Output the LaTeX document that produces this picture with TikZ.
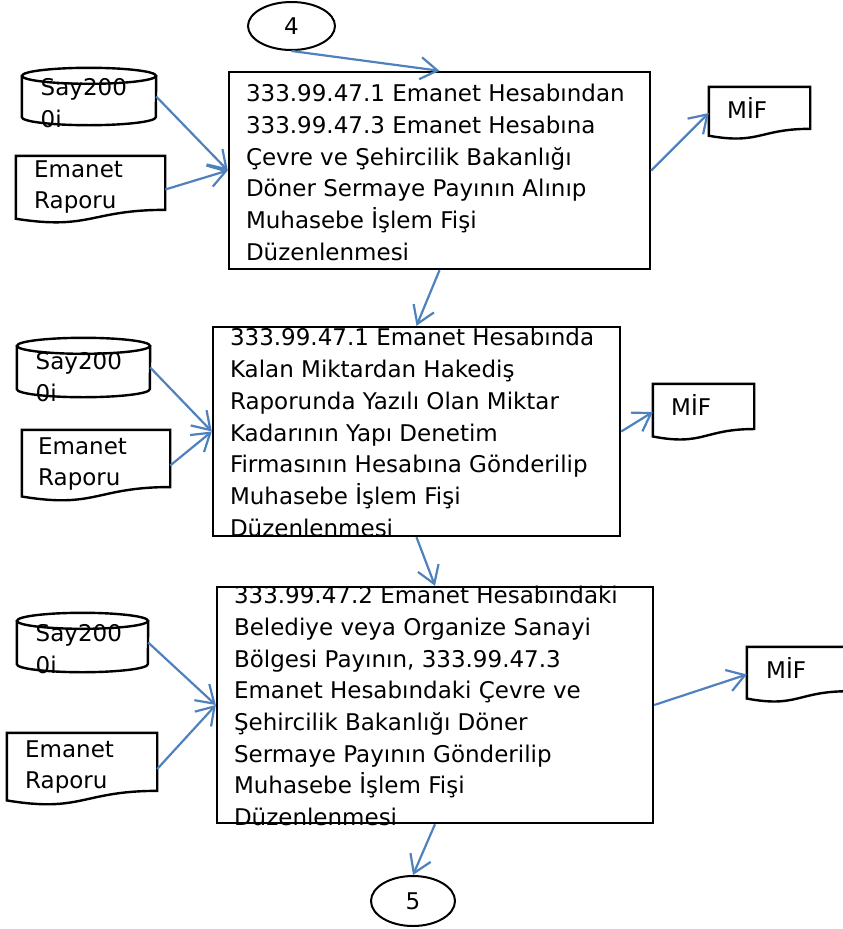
\documentclass[tikz,border=0pt]{standalone}
\usepackage{fontspec}
\setmainfont{DejaVu Sans}
\usetikzlibrary{shapes.geometric,arrows.meta,calc}
\definecolor{arrowblue}{HTML}{4F81BD}
\tikzset{
    flow/.style={draw=arrowblue, line width=2.2pt, -{Straight Barb[length=17pt,width=22pt]}},
    procbox/.style={rectangle, draw, line width=2.4pt, inner sep=0pt},
    proctext/.style={anchor=west, align=left, inner sep=0pt},
    outline/.style={line width=2.4pt},
    paper/.style={rectangle, inner sep=0pt},
    terminal/.style={ellipse, draw, line width=2pt, inner sep=0pt},
}
\begin{document}
\begin{tikzpicture}[x=1pt, y=-1pt, font=\fontsize{23}{31.7}\selectfont]
\useasboundingbox (0,0) rectangle (843,929);
% connectors in and out
\node[terminal, minimum width=87pt, minimum height=48pt] (o4) at (291.5,26) {4};
\node[terminal, minimum width=84pt, minimum height=50pt] (o5) at (413,901) {5};
% process boxes
\node[procbox, minimum width=421pt, minimum height=197pt] (b1) at (439.5,170.5) {};
\node[procbox, minimum width=407pt, minimum height=209pt] (b2) at (416.5,431.5) {};
\node[procbox, minimum width=436pt, minimum height=236pt] (b3) at (435,705) {};
\node[proctext] (t1) at ($(b1.west)+(18,2)$) {333.99.47.1 Emanet Hesabından\\333.99.47.3 Emanet Hesabına\\Çevre ve Şehircilik Bakanlığı\\Döner Sermaye Payının Alınıp\\Muhasebe İşlem Fişi\\Düzenlenmesi};
\node[proctext] (t2) at ($(b2.west)+(18,1)$) {333.99.47.1 Emanet Hesabında\\Kalan Miktardan Hakediş\\Raporunda Yazılı Olan Miktar\\Kadarının Yapı Denetim\\Firmasının Hesabına Gönderilip\\Muhasebe İşlem Fişi\\Düzenlenmesi};
\node[proctext] (t3) at ($(b3.west)+(18,1)$) {333.99.47.2 Emanet Hesabındaki\\Belediye veya Organize Sanayi\\Bölgesi Payının, 333.99.47.3\\Emanet Hesabındaki Çevre ve\\Şehircilik Bakanlığı Döner\\Sermaye Payının Gönderilip\\Muhasebe İşlem Fişi\\Düzenlenmesi};
% Say2000i disks
\node[paper, minimum width=134pt, minimum height=57pt] (c1) at (89,96.5) {};
\node[paper, minimum width=133pt, minimum height=59pt] (c2) at (83.5,367.5) {};
\node[paper, minimum width=131pt, minimum height=59pt] (c3) at (82.5,642.5) {};
\foreach \c/\r in {c1/67,c2/66.5,c3/65.5}
{
    \draw[outline] ($(\c.north)+(0,8)$) ellipse [x radius=\r*1pt, y radius=8pt];
    \draw[outline] ($(\c.north west)+(0,8)$) -- ($(\c.south west)+(0,-8)$)
        arc[start angle=180, end angle=360, x radius=\r*1pt, y radius=8pt] -- ($(\c.north east)+(0,8)$);
}
\node[proctext] (s1) at (40.5,103) {Say200\\0i};
\node[proctext] (s2) at (35.5,377) {Say200\\0i};
\node[proctext] (s3) at (35.5,649) {Say200\\0i};
% documents
\node[paper, minimum width=149pt, minimum height=67pt] (d1) at (90.5,189.5) {};
\node[paper, minimum width=148pt, minimum height=71pt] (d2) at (96,465.5) {};
\node[paper, minimum width=150pt, minimum height=72pt] (d3) at (82,769) {};
\node[paper, minimum width=101pt, minimum height=52pt] (m1) at (759.5,113) {};
\node[paper, minimum width=101pt, minimum height=56pt] (m2) at (703.5,412) {};
\node[paper, minimum width=101pt, minimum height=55pt] (m3) at (797.5,674.5) {};
\foreach \d in {d1,d2,d3,m1,m2,m3}
{
    \draw[outline] ($(\d.south west)!0.066!(\d.north west)$) -- (\d.north west) -- (\d.north east)
        -- ($(\d.south east)!0.198!(\d.north east)$)
        .. controls ($(\d.south)!0.198!(\d.north)$) and ($(\d.south)!-0.107!(\d.north)$) .. cycle;
}
\node[proctext] (e1) at (34,187) {Emanet\\Raporu};
\node[proctext] (e2) at (38,464) {Emanet\\Raporu};
\node[proctext] (e3) at (25,767) {Emanet\\Raporu};
\node[proctext] (f1) at (727,108) {MİF};
\node[proctext] (f2) at (671,405) {MİF};
\node[proctext] (f3) at (766,668) {MİF};
% arrows
\draw[flow] (o4.south) -- (b1.north);
\draw[flow] (c1.east) -- (b1.west);
\draw[flow] (d1.east) -- (b1.west);
\draw[flow] (b1.east) -- (m1.west);
\draw[flow] (b1.south) -- (b2.north);
\draw[flow] (c2.east) -- (b2.west);
\draw[flow] (d2.east) -- (b2.west);
\draw[flow] (b2.east) -- (m2.west);
\draw[flow] (b2.south) -- (b3.north);
\draw[flow] (c3.east) -- (b3.west);
\draw[flow] (d3.east) -- (b3.west);
\draw[flow] (b3.east) -- (m3.west);
\draw[flow] (b3.south) -- (o5.north);
\end{tikzpicture}
\end{document}
